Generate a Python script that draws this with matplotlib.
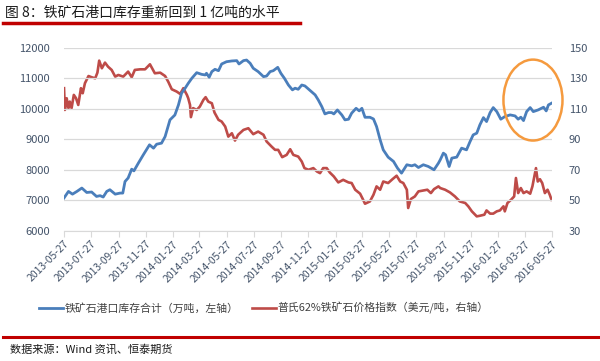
import matplotlib
matplotlib.use("Agg")
import matplotlib.pyplot as plt
from matplotlib.patches import Ellipse
import pandas as pd

plt.rcParams['font.family'] = ['Noto Sans CJK SC', 'DejaVu Sans']

# 铁矿石港口库存合计（万吨）
stock_dates = [
    "2013-05-27", "2013-06-06", "2013-06-15", "2013-06-25", "2013-07-06", "2013-07-17",
    "2013-07-28", "2013-08-08", "2013-08-16", "2013-08-23", "2013-08-31", "2013-09-07",
    "2013-09-19", "2013-09-30", "2013-10-06", "2013-10-11", "2013-10-18", "2013-10-26",
    "2013-10-31", "2013-11-10", "2013-11-21", "2013-12-05", "2013-12-14", "2013-12-21",
    "2014-01-01", "2014-01-09", "2014-01-20", "2014-01-31", "2014-02-08", "2014-02-15",
    "2014-02-23", "2014-03-02", "2014-03-10", "2014-03-21", "2014-04-01", "2014-04-09",
    "2014-04-12", "2014-04-18", "2014-04-24", "2014-05-01", "2014-05-09", "2014-05-16",
    "2014-05-27", "2014-06-08", "2014-06-19", "2014-06-24", "2014-07-04", "2014-07-11",
    "2014-07-19", "2014-07-26", "2014-08-06", "2014-08-18", "2014-08-25", "2014-09-02",
    "2014-09-09", "2014-09-19", "2014-09-26", "2014-10-04", "2014-10-13", "2014-10-22",
    "2014-10-28", "2014-11-04", "2014-11-12", "2014-11-19", "2014-12-01", "2014-12-12",
    "2014-12-19", "2014-12-27", "2015-01-03", "2015-01-11", "2015-01-18", "2015-01-23",
    "2015-01-31", "2015-02-10", "2015-02-17", "2015-02-25", "2015-03-04", "2015-03-14",
    "2015-03-21", "2015-03-27", "2015-04-03", "2015-04-14", "2015-04-22", "2015-04-29",
    "2015-05-07", "2015-05-14", "2015-05-25", "2015-06-06", "2015-06-15", "2015-06-24",
    "2015-07-06", "2015-07-17", "2015-07-24", "2015-08-01", "2015-08-12", "2015-08-23",
    "2015-09-05", "2015-09-15", "2015-09-19", "2015-09-26", "2015-10-01", "2015-10-09",
    "2015-10-15", "2015-10-26", "2015-11-06", "2015-11-17", "2015-11-25", "2015-12-02",
    "2015-12-10", "2015-12-17", "2015-12-25", "2016-01-01", "2016-01-09", "2016-01-16",
    "2016-01-24", "2016-02-02", "2016-02-11", "2016-02-23", "2016-03-05", "2016-03-12",
    "2016-03-18", "2016-03-24", "2016-03-31", "2016-04-08", "2016-04-15", "2016-04-26",
    "2016-05-08", "2016-05-14", "2016-05-19", "2016-05-26",
]
stock = [
    7075, 7290, 7200, 7290, 7400, 7255,
    7270, 7125, 7150, 7105, 7290, 7345,
    7200, 7235, 7235, 7615, 7730, 8020,
    7965, 8220, 8490, 8820, 8710, 8840,
    8875, 9090, 9640, 9800, 10130, 10515,
    10680, 10840, 11005, 11190, 11135, 11115,
    11170, 11040, 11225, 11300, 11255, 11475,
    11550, 11575, 11585, 11475, 11585, 11605,
    11500, 11335, 11225, 11060, 11080, 11225,
    11255, 11365, 11170, 11005, 10785, 10625,
    10680, 10645, 10785, 10755, 10600, 10460,
    10295, 10075, 9835, 9880, 9880, 9835,
    9965, 9800, 9640, 9660, 9860, 10020,
    9935, 10020, 9725, 9725, 9670, 9420,
    8985, 8655, 8415, 8275, 8055, 7890,
    8165, 8130, 8165, 8075, 8165, 8110,
    8000, 8220, 8328, 8547, 8492, 8108,
    8383, 8416, 8711, 8655, 8928, 9147,
    9203, 9475, 9714, 9584, 9879, 10043,
    9911, 9662, 9747, 9803, 9770, 9662,
    9728, 9616, 9911, 10043, 9911, 9967,
    10055, 9934, 10131, 10187,
]

# 普氏62%铁矿石价格指数（美元/吨）
price_dates = [
    "2013-05-27", "2013-05-29", "2013-06-02", "2013-06-06", "2013-06-09", "2013-06-13",
    "2013-06-18", "2013-06-23", "2013-06-28", "2013-07-04", "2013-07-08", "2013-07-13",
    "2013-07-21", "2013-07-28", "2013-08-05", "2013-08-10", "2013-08-14", "2013-08-20",
    "2013-08-27", "2013-09-03", "2013-09-11", "2013-09-19", "2013-09-26", "2013-10-07",
    "2013-10-18", "2013-10-26", "2013-11-02", "2013-11-14", "2013-11-25", "2013-12-06",
    "2013-12-17", "2013-12-29", "2014-01-09", "2014-01-16", "2014-01-24", "2014-02-04",
    "2014-02-12", "2014-02-19", "2014-02-27", "2014-03-02", "2014-03-06", "2014-03-08",
    "2014-03-13", "2014-03-21", "2014-03-28", "2014-04-05", "2014-04-10", "2014-04-16",
    "2014-04-24", "2014-04-30", "2014-05-09", "2014-05-16", "2014-05-24", "2014-05-31",
    "2014-06-08", "2014-06-15", "2014-06-22", "2014-07-04", "2014-07-15", "2014-07-26",
    "2014-08-06", "2014-08-18", "2014-08-25", "2014-09-05", "2014-09-13", "2014-09-20",
    "2014-09-29", "2014-10-09", "2014-10-17", "2014-10-24", "2014-11-04", "2014-11-12",
    "2014-11-18", "2014-11-27", "2014-12-08", "2014-12-16", "2014-12-23", "2014-12-30",
    "2015-01-07", "2015-01-14", "2015-01-23", "2015-02-02", "2015-02-13", "2015-02-25",
    "2015-03-04", "2015-03-12", "2015-03-23", "2015-03-29", "2015-04-03", "2015-04-14",
    "2015-04-22", "2015-04-29", "2015-05-07", "2015-05-14", "2015-05-25", "2015-06-04",
    "2015-06-13", "2015-06-21", "2015-06-28", "2015-07-06", "2015-07-09", "2015-07-15",
    "2015-07-24", "2015-08-01", "2015-08-12", "2015-08-21", "2015-08-29", "2015-09-05",
    "2015-09-15", "2015-09-19", "2015-09-30", "2015-10-11", "2015-10-22", "2015-11-02",
    "2015-11-14", "2015-11-21", "2015-11-29", "2015-12-10", "2015-12-17", "2015-12-27",
    "2016-01-01", "2016-01-09", "2016-01-16", "2016-01-24", "2016-01-31", "2016-02-08",
    "2016-02-11", "2016-02-17", "2016-02-25", "2016-03-03", "2016-03-07", "2016-03-12",
    "2016-03-18", "2016-03-24", "2016-03-31", "2016-04-08", "2016-04-13", "2016-04-21",
    "2016-04-25", "2016-04-30", "2016-05-05", "2016-05-11", "2016-05-17", "2016-05-22",
    "2016-05-26",
]
price = [
    123.6, 109.3, 117.0, 110.5, 114.8, 110.5,
    119.2, 117.0, 112.6, 123.6, 120.3, 126.9,
    131.6, 130.8, 130.1, 133.8, 141.7, 136.7,
    140.4, 137.7, 135.6, 131.2, 132.3, 131.2,
    134.5, 130.8, 135.6, 136.0, 136.0, 139.3,
    133.4, 133.8, 131.6, 127.9, 122.9, 121.4,
    119.8, 123.6, 119.2, 117.0, 112.6, 104.6,
    110.5, 109.3, 111.5, 115.9, 117.7, 114.8,
    113.7, 107.6, 102.8, 101.7, 98.4, 91.8,
    94.0, 89.2, 93.0, 96.2, 97.3, 93.4,
    95.1, 93.0, 88.6, 85.3, 83.1, 83.1,
    78.3, 79.8, 83.5, 79.8, 78.7, 75.4,
    71.1, 70.0, 71.1, 68.9, 67.8, 71.1,
    71.1, 68.2, 65.6, 61.7, 63.4, 61.7,
    61.3, 56.9, 54.3, 50.8, 47.7, 49.2,
    53.6, 59.1, 56.9, 62.3, 61.3, 63.9,
    66.1, 62.3, 61.3, 56.9, 44.9, 50.8,
    52.5, 55.8, 56.4, 56.9, 54.7, 57.3,
    59.1, 58.0, 56.9, 55.1, 52.5, 49.2,
    48.2, 46.0, 42.7, 39.4, 39.8, 40.5,
    43.3, 41.2, 41.2, 42.7, 43.3, 46.0,
    42.7, 48.2, 50.3, 52.5, 64.6, 54.7,
    58.0, 54.7, 55.8, 54.3, 59.1, 71.1,
    62.3, 63.8, 61.3, 54.7, 56.9, 53.6,
    50.3,
]

tick_labels = [
    "2013-05-27", "2013-07-27", "2013-09-27", "2013-11-27", "2014-01-27", "2014-03-27",
    "2014-05-27", "2014-07-27", "2014-09-27", "2014-11-27", "2015-01-27", "2015-03-27",
    "2015-05-27", "2015-07-27", "2015-09-27", "2015-11-27", "2016-01-27", "2016-03-27",
    "2016-05-27",
]

title = "图 8：铁矿石港口库存重新回到 1 亿吨的水平"
source = "数据来源：Wind 资讯、恒泰期货"
label_stock = "铁矿石港口库存合计（万吨，左轴）"
label_price = "普氏62%铁矿石价格指数（美元/吨，右轴）"

blue = "#4A7EBB"
red = "#BE4B48"
axis_text = "#44546A"
grid_c = "#D9D9D9"

fig = plt.figure(figsize=(6.0, 3.61), dpi=100)
ax = fig.add_axes([0.1067, 0.361, 0.8133, 0.506])
ax2 = ax.twinx()

sd = pd.to_datetime(stock_dates)
pdts = pd.to_datetime(price_dates)
ticks = pd.to_datetime(tick_labels)

l1, = ax.plot(sd, stock, color=blue, lw=2.0, zorder=3, solid_joinstyle="round")
l2, = ax2.plot(pdts, price, color=red, lw=1.9, zorder=3)
ax.set_zorder(ax2.get_zorder() + 1)
ax.patch.set_visible(False)

ax.set_ylim(6000, 12000)
ax.set_yticks(range(6000, 12001, 1000))
ax2.set_ylim(30, 150)
ax2.set_yticks(range(30, 151, 20))
ax.set_xlim(ticks[0], ticks[-1])
ax.set_xticks(ticks)
ax.set_xticklabels(tick_labels, rotation=45, ha="right", rotation_mode="anchor",
                   fontsize=7.5, color=axis_text)

ax2.grid(False)
ax.yaxis.grid(True, color=grid_c, lw=0.9)
ax.set_axisbelow(True)
for a in (ax, ax2):
    for s in a.spines.values():
        s.set_visible(False)
ax.spines["bottom"].set_visible(True)
ax.spines["bottom"].set_color(grid_c)
ax.tick_params(axis="y", length=0, labelsize=8, labelcolor=axis_text, pad=10)
ax2.tick_params(axis="y", length=0, labelsize=8, labelcolor=axis_text, pad=12)
ax.tick_params(axis="x", length=4, color=grid_c, pad=2)

# 标注圈
ell = Ellipse((0.961, 0.715), 0.121, 0.443, transform=ax.transAxes, fill=False,
              edgecolor="#F59A3E", lw=1.8, clip_on=False, zorder=5)
ax.add_patch(ell)

fig.legend([l1, l2], [label_stock, label_price], loc="center", ncol=2,
           bbox_to_anchor=(0.44, 0.147), frameon=False, fontsize=7.8,
           handlelength=2.2, columnspacing=1.3, handletextpad=0.15,
           labelcolor="#404040")

fig.text(0.008, 0.965, title, fontsize=10, fontweight="medium", color="#1a1a1a",
         va="center", ha="left")
fig.add_artist(plt.Line2D([0.005, 0.5], [0.937, 0.937], color="#C00000", lw=2.5,
                          transform=fig.transFigure))
fig.add_artist(plt.Line2D([0.005, 1.0], [0.067, 0.067], color="#C00000", lw=2.2,
                          transform=fig.transFigure))
fig.text(0.017, 0.033, source, fontsize=8, color="#1a1a1a", va="center", ha="left")

fig.savefig("out.png", dpi=100)
